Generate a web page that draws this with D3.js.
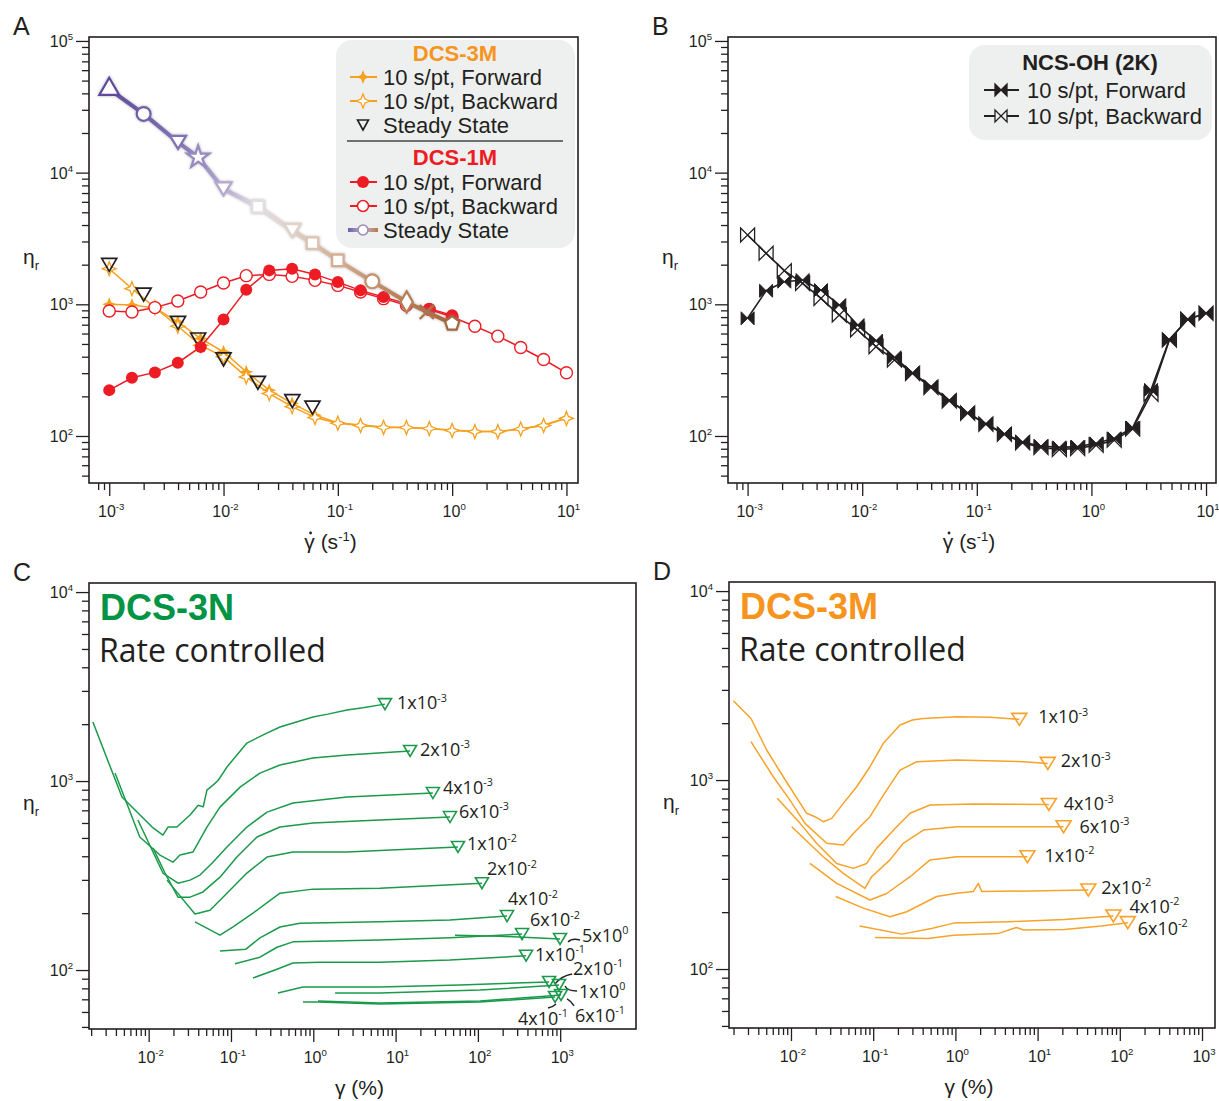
<!DOCTYPE html>
<html>
<head>
<meta charset="utf-8">
<script src="https://cdnjs.cloudflare.com/ajax/libs/d3/7.8.5/d3.min.js"></script>
<style>
  body { margin: 0; background: #fff; }
  svg { display: block; }
  .tick-label { font-family: "Liberation Sans", Arial, sans-serif; font-size: 16px; fill: #231f20; }
  .axis-title { font-family: "Liberation Sans", Arial, sans-serif; font-size: 21px; fill: #231f20; }
  .leg { font-family: "Liberation Sans", Arial, sans-serif; font-size: 22px; fill: #231f20; }
  .rate { font-family: "Open Sans", sans-serif; font-size: 18px; fill: #231f20; }
</style>
</head>
<body>
<div id="chart"></div>
<script>
// ---------- Panel A : DCS-3M / DCS-1M ----------
const rateA = [1e-3, 1.58e-3, 2.51e-3, 3.98e-3, 6.31e-3, 1e-2, 1.58e-2, 2.51e-2, 3.98e-2, 6.31e-2,
               0.1, 0.158, 0.251, 0.398, 0.631, 1, 1.58, 2.51, 3.98, 6.31, 10];
const dcs1mForward  = [223, 277, 304, 360, 475, 766, 1292, 1810, 1864, 1687, 1475, 1276, 1136, 1012, 927, 826];
const dcs1mBackward = [890, 875, 944, 1059, 1240, 1451, 1650, 1687, 1630, 1520, 1392, 1240, 1104, 983, 912, 801, 681, 573, 470, 381, 302];
const dcs3mForward  = [1000, 990, 940, 735, 550, 436, 307, 223, 177, 144, 126, 121, 117, 116, 114, 111, 108, 108, 113, 121, 137];
const dcs3mBackward = [1864, 1315, 944, 681, 488, 399, 281, 210, 167, 138, 125, 120, 116, 116, 114, 110, 108, 108, 113, 120, 136];
const ssRate3m = [1e-3, 2e-3, 4e-3, 6e-3, 1e-2, 2e-2, 4e-2, 6e-2];
const ss3m     = [2030, 1205, 735, 550, 388, 258, 187, 167];
const ssRate1m = [1e-3, 2e-3, 4e-3, 6e-3, 1e-2, 2e-2, 4e-2, 6e-2, 0.1, 0.2, 0.4, 0.6, 1];
const ss1m     = [43000, 27900, 17000, 13100, 7520, 5520, 3630, 2910, 2155, 1494, 1041, 875, 714];
const ss1mShapes = ["triUp", "circle", "triDown", "star", "triDown", "square", "triDown", "square", "square", "circle", "diamond", "times", "pentagon"];

// ---------- Panel B : NCS-OH (2K) ----------
const rateB = [0.001, 0.00145, 0.00209, 0.00302, 0.00437, 0.00631, 0.00912, 0.0132, 0.0191, 0.0275,
               0.0398, 0.0575, 0.0832, 0.120, 0.174, 0.251, 0.363, 0.525, 0.759, 1.10,
               1.58, 2.29, 3.31, 4.79, 6.92, 10.0];
const ncsForward  = [783, 1268, 1485, 1528, 1283, 987, 695, 530, 396, 302, 238, 187, 150, 124, 104, 90, 84, 82, 83, 88, 96, 116, 224, 541, 769, 855];
const ncsBackward = [3357, 2440, 1800, 1443, 1110, 829, 638, 477, 378, 299, 234, 185, 149, 123, 103, 89, 82, 79, 80.5, 85, 93, 113, 208, 536, 769, 855];

// ---------- Panel C : DCS-3N start-up curves  [strain %, eta_r] ----------
const c_1e3 = [[2.1e-3,2051],[4.74e-3,823],[1.1e-2,571],[1.49e-2,518],[1.72e-2,571],[2.2e-2,571],[3.18e-2,661],[4e-2,745],[4.6e-2,730],[5.1e-2,896],[6.2e-2,960],[7e-2,1010],[8.93e-2,1186],[0.156,1588],[0.25,1760],[0.394,1932],[0.99,2183],[1.5,2260],[2.57,2377],[4,2440],[7.43,2553]];
const c_2e3 = [[3.9e-3,1102],[7.8e-3,506],[1.37e-2,406],[1.97e-2,372],[2.4e-2,406],[3.45e-2,421],[5.1e-2,571],[7.35e-2,728],[0.129,929],[0.225,1102],[0.394,1216],[0.99,1324],[2.57,1374],[15.0,1442]];
const c_4e3 = [[7.4e-3,622],[1.49e-2,326],[2.27e-2,288],[3.18e-2,299],[4.2e-2,318],[6.04e-2,372],[8.93e-2,448],[0.156,571],[0.274,685],[0.566,765],[2.57,823],[28.4,864]];
const c_6e3 = [[1.13e-2,442],[1.58e-2,326],[2.27e-2,243],[3.18e-2,243],[4.57e-2,259],[7.35e-2,310],[0.118,396],[0.207,506],[0.394,571],[0.99,600],[6.45,622],[45.8,645]];
const c_1e2 = [[1.67e-2,299],[3.65e-2,198],[5.56e-2,207],[8.93e-2,255],[0.156,326],[0.274,396],[0.566,421],[2.57,421],[16.3,437],[57.3,448]];
const c_2e2 = [[3.65e-2,180],[7.35e-2,153],[0.106,169],[0.185,200],[0.394,255],[0.99,268],[6.45,271],[112,288]];
const c_4e2 = [[7.35e-2,126],[0.152,129],[0.225,148],[0.394,169],[0.689,177],[6.45,180],[45.8,184],[226,193]];
const c_6e2 = [[0.112,108],[0.225,117],[0.362,132],[0.566,141],[6.45,144],[45.8,148],[344,155]];
const c_1e1 = [[0.185,90.7],[0.362,101],[0.566,109],[1.21,110],[6.45,110],[45.8,113],[385,119]];
const c_2e1 = [[0.372,75.5],[0.75,81.3],[6.45,81.3],[60.6,83.4],[733,86.5]];
const c_4e1 = [[0.75,67.7],[1.14,67.7],[6.45,66.1],[106,67.7],[866,72]];
const c_6e1 = [[1.14,68.5],[6.45,66.9],[106,68.5],[1023,73.8]];
const c_1e0 = [[1.84,75.5],[6.45,75.5],[106,78.3],[968,83.4]];
const c_5e0 = [[52.7,153],[186,151],[995,146]];
const curvesC = [c_1e3, c_2e3, c_4e3, c_6e3, c_1e2, c_2e2, c_4e2, c_6e2, c_5e0, c_1e1, c_2e1, c_1e0, c_4e1, c_6e1];
const ratesC  = [["1x10","-3"],["2x10","-3"],["4x10","-3"],["6x10","-3"],["1x10","-2"],["2x10","-2"],["4x10","-2"],["6x10","-2"],
                 ["5x10","0"],["1x10","-1"],["2x10","-1"],["1x10","0"],["4x10","-1"],["6x10","-1"]];

// ---------- Panel D : DCS-3M start-up curves ----------
const d_1e3 = [[1.99e-3,2630],[3.26e-3,2118],[5.06e-3,1442],[8.05e-3,1041],[1.55e-2,667],[1.96e-2,640],[2.47e-2,602],[3.13e-2,627],[4.33e-2,753],[6.3e-2,922],[9.14e-2,1176],[0.133,1564],[0.212,1956],[0.3,2080],[0.407,2119],[1.04,2163],[2.64,2147],[5.99,2095]];
const d_2e3 = [[3.26e-3,1596],[6.09e-3,1041],[9.72e-3,783],[1.48e-2,590],[2.72e-2,463],[4.33e-2,453],[5.73e-2,522],[9.14e-2,640],[0.133,833],[0.212,1129],[0.338,1250],[1.04,1276],[6.7,1250],[13.3,1225]];
const d_4e3 = [[6.81e-3,800],[1.29e-2,590],[2.05e-2,463],[3.6e-2,362],[5.73e-2,341],[8.34e-2,362],[0.11,435],[0.193,566],[0.281,667],[0.491,738],[1.65,747],[13.7,743]];
const d_6e3 = [[1.02e-2,566],[2.47e-2,393],[4.33e-2,321],[7.94e-2,267],[9.59e-2,308],[0.16,378],[0.232,463],[0.407,544],[1.04,566],[10.7,566],[20.7,566]];
const d_1e2 = [[1.7e-2,362],[3.6e-2,284],[9.14e-2,232],[0.146,251],[0.281,308],[0.491,378],[1.04,393],[7.52,393]];
const d_2e2 = [[3.5e-2,242],[7.59e-2,210],[0.16,189],[0.256,201],[0.592,242],[1.04,252],[1.65,257],[1.9,284],[2.09,257],[17.1,260],[41.4,262]];
const d_4e2 = [[6.84e-2,169],[0.224,153],[0.512,164],[0.953,175],[4.49,178],[21.2,183],[83.6,191]];
const d_6e2 = [[0.105,147],[0.461,145],[0.953,151],[3.3,154],[5.52,166],[6.79,161],[21.2,162],[59.6,169],[125,176]];
const curvesD = [d_1e3, d_2e3, d_4e3, d_6e3, d_1e2, d_2e2, d_4e2, d_6e2];
const ratesD  = [["1x10","-3"],["2x10","-3"],["4x10","-3"],["6x10","-3"],["1x10","-2"],["2x10","-2"],["4x10","-2"],["6x10","-2"]];

// label placement (pixels from the end triangle)
const labelOffC = [[12,5],[10,5],[10,1],[9,1],[9,3],[5,-8],[1,-11],[8,-8],[22,3],[9,5],[24,-7],[20,13],[-37,28],[14,27]];
const leaderC = [null,null,null,null,null,null,null,null,"M8,3 Q12,-1 20,1",null,"M6,2 Q12,-6 23,-8","M6,1 Q8,6 18,6","M1,7 Q-2,10 -7,11","M6,4 Q10,6 13,11"];
const labelOffD = [[19,4],[13,4],[15,6],[16,6],[17,5],[13,4],[16,-3],[10,12]];

// ---------- drawing ----------
const W = 1219, H = 1101;
const ink = "#231f20", orange = "#f6a01e", red = "#ed1c24", green = "#1a9a4a", orangeD = "#f7a229";
const svg = d3.select("#chart").append("svg").attr("width", W).attr("height", H);
svg.append("rect").attr("width", W).attr("height", H).attr("fill", "#fff");

const defs = svg.append("defs");
defs.append("filter").attr("id", "glow").attr("x", "-20%").attr("y", "-20%").attr("width", "140%").attr("height", "140%")
  .append("feDropShadow").attr("dx", 0).attr("dy", 0).attr("stdDeviation", 1.6)
  .attr("flood-color", "#8a8a8a").attr("flood-opacity", 0.7);

function logTicks(lo, hi) {
  const out = [];
  for (let e = -4; e <= 5; e++) for (let k = 1; k <= 9; k++) {
    const v = +(k * Math.pow(10, e)).toPrecision(6);
    if (v >= lo * 0.9999 && v <= hi * 1.0001) out.push(v);
  }
  return out;
}
const isMajor = v => Math.abs(Math.log10(v) - Math.round(Math.log10(v))) < 1e-6;

function sup(t, base, exp, size) {
  t.append("tspan").text(base);
  t.append("tspan").attr("font-size", size * 0.6).attr("dy", -size * 0.42).text(exp);
}

function panel(c) {
  const g = svg.append("g");
  const x = d3.scaleLog().domain(c.xd).range([c.l, c.r]);
  const y = d3.scaleLog().domain(c.yd).range([c.b, c.t]);
  const xt = logTicks(c.xt[0], c.xt[1]), yt = logTicks(c.yt[0], c.yt[1]);

  const ax = g.append("g").attr("transform", `translate(0,${c.b})`)
    .call(d3.axisBottom(x).tickValues(xt).tickSizeOuter(0).tickFormat(""));
  ax.select(".domain").remove();
  ax.selectAll(".tick line").attr("y2", d => isMajor(d) ? 13 : 7).attr("stroke", ink).attr("stroke-width", 1.3);

  const ay = g.append("g").attr("transform", `translate(${c.l},0)`)
    .call(d3.axisLeft(y).tickValues(yt).tickSizeOuter(0).tickFormat(""));
  ay.select(".domain").remove();
  ay.selectAll(".tick line").attr("x2", d => isMajor(d) ? -13 : -7).attr("stroke", ink).attr("stroke-width", 1.3);

  xt.filter(isMajor).forEach(v => {
    const t = g.append("text").attr("class", "tick-label").attr("text-anchor", "middle")
      .attr("x", x(v) + 2).attr("y", c.b + 34);
    sup(t, "10", String(Math.round(Math.log10(v))), 16);
  });
  yt.filter(isMajor).forEach(v => {
    const t = g.append("text").attr("class", "tick-label").attr("text-anchor", "end")
      .attr("x", c.l - 16).attr("y", y(v) + 6);
    sup(t, "10", String(Math.round(Math.log10(v))), 16);
  });

  g.append("rect").attr("x", c.l).attr("y", c.t).attr("width", c.r - c.l).attr("height", c.b - c.t)
    .attr("fill", "none").attr("stroke", ink).attr("stroke-width", 1.6);

  // titles
  const ty = c.b + 66;
  const xtl = g.append("text").attr("class", "axis-title").attr("text-anchor", "middle")
    .attr("x", (c.l + c.r) / 2 - 3).attr("y", ty);
  if (c.rateAxis) {
    xtl.append("tspan").text("\u03B3 (s");
    xtl.append("tspan").attr("font-size", 13).attr("dy", -8).text("-1");
    xtl.append("tspan").attr("dy", 8).text(")");
    const ext = xtl.node().getExtentOfChar(0);
    g.append("circle").attr("cx", ext.x + ext.width / 2 + 1).attr("cy", ty - 16).attr("r", 1.4).attr("fill", ink);
  } else {
    xtl.text("\u03B3 (%)");
  }
  const ytl = g.append("text").attr("class", "axis-title").attr("x", c.l - 66).attr("y", (c.t + c.b) / 2 + 4);
  ytl.append("tspan").text("\u03B7");
  ytl.append("tspan").attr("font-size", 13).attr("dy", 6).text("r");

  g.append("text").attr("x", c.l - 76).attr("y", c.t - 2)
    .attr("font-family", "Liberation Sans, Arial, sans-serif").attr("font-size", 25).attr("fill", ink).text(c.letter);
  return { g, x, y };
}

// marker paths
const star4 = r => `M0,${-r}L${r*0.28},${-r*0.28}L${r},0L${r*0.28},${r*0.28}L0,${r}L${-r*0.28},${r*0.28}L${-r},0L${-r*0.28},${-r*0.28}Z`;
const bowtie = s => `M${-s},${-s}L${s},${s}L${s},${-s}L${-s},${s}Z`;
const triDown = (w, h) => `M${-w/2},${-h/2}L${w/2},${-h/2}L0,${h/2}Z`;
const pentagon = r => d3.range(5).map(i => { const a = -Math.PI / 2 + i * 2 * Math.PI / 5; return [r * Math.cos(a), r * Math.sin(a)]; })
  .map((p, i) => (i ? "L" : "M") + p[0].toFixed(2) + "," + p[1].toFixed(2)).join("") + "Z";
function shapePath(name) {
  switch (name) {
    case "triUp": return d3.symbol(d3.symbolTriangle, 170)();
    case "triDown": return triDown(16, 13);
    case "circle": return d3.symbol(d3.symbolCircle, 150)();
    case "star": return d3.symbol(d3.symbolStar, 150)();
    case "square": return d3.symbol(d3.symbolSquare, 130)();
    case "diamond": return d3.symbol(d3.symbolDiamond, 130)();
    case "times": return d3.symbol(d3.symbolTimes, 130)();
    default: return pentagon(7.5);
  }
}

// ================= Panel A =================
{
  const { g, x, y } = panel({ l: 89, r: 578, t: 37, b: 483, xd: [Math.pow(10, -3.177), Math.pow(10, 1.101)],
    yd: [Math.pow(10, 1.643), Math.pow(10, 5.03)], xt: [8e-4, 10], yt: [50, 1e5], rateAxis: true, letter: "A" });
  const line = d3.line().x(d => x(d[0])).y(d => y(d[1]));
  const zip = (xs, ys) => ys.map((v, i) => [xs[i], v]);

  const f3 = zip(rateA, dcs3mForward), b3 = zip(rateA, dcs3mBackward);
  g.append("path").attr("d", line(b3)).attr("fill", "none").attr("stroke", orange).attr("stroke-width", 1.5);
  g.append("path").attr("d", line(f3)).attr("fill", "none").attr("stroke", orange).attr("stroke-width", 1.5);
  g.selectAll(".f3").data(f3).join("path").attr("transform", d => `translate(${x(d[0])},${y(d[1])})`)
    .attr("d", star4(7)).attr("fill", orange);
  g.selectAll(".b3").data(b3).join("path").attr("transform", d => `translate(${x(d[0])},${y(d[1])})`)
    .attr("d", star4(7)).attr("fill", "#fff").attr("stroke", orange).attr("stroke-width", 1.3);
  g.selectAll(".s3").data(zip(ssRate3m, ss3m)).join("path").attr("transform", d => `translate(${x(d[0])},${y(d[1]) + 1})`)
    .attr("d", triDown(15, 13)).attr("fill", "none").attr("stroke", ink).attr("stroke-width", 1.7);

  const f1 = zip(rateA, dcs1mForward), b1 = zip(rateA, dcs1mBackward);
  g.append("path").attr("d", line(b1)).attr("fill", "none").attr("stroke", red).attr("stroke-width", 1.5);
  g.append("path").attr("d", line(f1)).attr("fill", "none").attr("stroke", red).attr("stroke-width", 1.5);
  g.selectAll(".b1").data(b1).join("circle").attr("cx", d => x(d[0])).attr("cy", d => y(d[1])).attr("r", 6)
    .attr("fill", "#fff").attr("stroke", red).attr("stroke-width", 1.4);
  g.selectAll(".f1").data(f1).join("circle").attr("cx", d => x(d[0])).attr("cy", d => y(d[1])).attr("r", 6).attr("fill", red);

  // steady-state DCS-1M gradient line
  const x1 = x(ssRate1m[0]), x2 = x(ssRate1m[ssRate1m.length - 1]);
  const stopT = [0, 0.2, 0.333, 0.43, 0.53, 0.667, 0.8, 1];
  const stopC = ["#604a9c", "#8172b5", "#b3a8d0", "#e2dee6", "#e2d2c8", "#d4ac92", "#c08962", "#a4663a"];
  const grad = defs.append("linearGradient").attr("id", "ssGrad").attr("gradientUnits", "userSpaceOnUse")
    .attr("x1", x1).attr("x2", x2).attr("y1", 0).attr("y2", 0);
  stopT.forEach((t, i) => grad.append("stop").attr("offset", t).attr("stop-color", stopC[i]));
  const colAt = d3.scaleLinear().domain(stopT).range(stopC).interpolate(d3.interpolateRgb);
  const ss = zip(ssRate1m, ss1m);
  const sg = g.append("g").attr("filter", "url(#glow)");
  sg.append("path").attr("d", line(ss)).attr("fill", "none").attr("stroke", "url(#ssGrad)").attr("stroke-width", 4);
  sg.selectAll(".ss").data(ss).join("path")
    .attr("transform", (d, i) => `translate(${x(d[0])},${y(d[1])})`)
    .attr("d", (d, i) => shapePath(ss1mShapes[i]))
    .attr("fill", "#fff").attr("stroke", d => colAt((x(d[0]) - x1) / (x2 - x1))).attr("stroke-width", 2.2);

  // legend
  const lg = svg.append("g");
  lg.append("rect").attr("x", 336).attr("y", 40).attr("width", 239).attr("height", 208).attr("rx", 16).attr("fill", "#eef0ef");
  lg.append("text").attr("class", "leg").attr("x", 455).attr("y", 61).attr("text-anchor", "middle")
    .attr("font-weight", "bold").style("fill", "#f7941d").text("DCS-3M");
  lg.append("text").attr("class", "leg").attr("x", 455).attr("y", 165).attr("text-anchor", "middle")
    .attr("font-weight", "bold").style("fill", red).text("DCS-1M");
  lg.append("line").attr("x1", 347).attr("x2", 563).attr("y1", 141).attr("y2", 141).attr("stroke", "#444").attr("stroke-width", 1.5);
  const items = [
    { y: 77, t: "10 s/pt, Forward", col: orange, mk: "starF" },
    { y: 101, t: "10 s/pt, Backward", col: orange, mk: "starO" },
    { y: 125, t: "Steady State", col: null, mk: "tri" },
    { y: 182, t: "10 s/pt, Forward", col: red, mk: "circF" },
    { y: 206, t: "10 s/pt, Backward", col: red, mk: "circO" },
    { y: 230, t: "Steady State", col: "grad", mk: "ss" }
  ];
  const lgGrad = defs.append("linearGradient").attr("id", "lgGrad");
  lgGrad.append("stop").attr("offset", 0).attr("stop-color", "#6f5cab");
  lgGrad.append("stop").attr("offset", 0.5).attr("stop-color", "#c9b7c8");
  lgGrad.append("stop").attr("offset", 1).attr("stop-color", "#b47a4c");
  items.forEach(it => {
    if (it.col === "grad") lg.append("rect").attr("x", 348).attr("y", it.y - 2).attr("width", 30).attr("height", 4).attr("fill", "url(#lgGrad)");
    else if (it.col) lg.append("line").attr("x1", 350).attr("x2", 377).attr("y1", it.y).attr("y2", it.y).attr("stroke", it.col).attr("stroke-width", 2);
    const m = lg.append("g").attr("transform", `translate(363,${it.y})`);
    if (it.mk === "starF") m.append("path").attr("d", star4(7)).attr("fill", orange);
    if (it.mk === "starO") m.append("path").attr("d", star4(7)).attr("fill", "#fff").attr("stroke", orange).attr("stroke-width", 1.3);
    if (it.mk === "tri") m.append("path").attr("d", triDown(11, 10)).attr("fill", "none").attr("stroke", ink).attr("stroke-width", 1.6);
    if (it.mk === "circF") m.append("circle").attr("r", 6).attr("fill", red);
    if (it.mk === "circO") m.append("circle").attr("r", 5.5).attr("fill", "#fff").attr("stroke", red).attr("stroke-width", 1.5);
    if (it.mk === "ss") m.append("circle").attr("r", 5).attr("fill", "#fff").attr("stroke", "#9c8ab8").attr("stroke-width", 1.6);
    lg.append("text").attr("class", "leg").attr("x", 383).attr("y", it.y + 8).text(it.t);
  });
}

// ================= Panel B =================
{
  const { g, x, y } = panel({ l: 728, r: 1216, t: 37, b: 483, xd: [Math.pow(10, -3.171), Math.pow(10, 1.087)],
    yd: [Math.pow(10, 1.643), Math.pow(10, 5.03)], xt: [8e-4, 10], yt: [50, 1e5], rateAxis: true, letter: "B" });
  const line = d3.line().x(d => x(d[0])).y(d => y(d[1]));
  const fw = ncsForward.map((v, i) => [rateB[i], v]);
  const bw = ncsBackward.map((v, i) => [rateB[i], v]);
  g.append("path").attr("d", line(bw)).attr("fill", "none").attr("stroke", ink).attr("stroke-width", 1.6);
  g.append("path").attr("d", line(fw)).attr("fill", "none").attr("stroke", ink).attr("stroke-width", 1.6);
  g.selectAll(".fw").data(fw).join("path").attr("transform", d => `translate(${x(d[0])},${y(d[1])})`)
    .attr("d", bowtie(6.5)).attr("fill", ink).attr("stroke", ink).attr("stroke-width", 1);
  g.selectAll(".bw").data(bw).join("path").attr("transform", d => `translate(${x(d[0])},${y(d[1])})`)
    .attr("d", bowtie(7)).attr("fill", "none").attr("stroke", ink).attr("stroke-width", 1.3);

  const lg = svg.append("g");
  lg.append("rect").attr("x", 969).attr("y", 45).attr("width", 243).attr("height", 95).attr("rx", 16).attr("fill", "#eef0ef");
  lg.append("text").attr("class", "leg").attr("x", 1090).attr("y", 70).attr("text-anchor", "middle")
    .attr("font-weight", "bold").text("NCS-OH (2K)");
  [[90, "10 s/pt, Forward", true], [116, "10 s/pt, Backward", false]].forEach(([yy, t, filled]) => {
    lg.append("line").attr("x1", 984).attr("x2", 1019).attr("y1", yy).attr("y2", yy).attr("stroke", ink).attr("stroke-width", 2);
    lg.append("path").attr("transform", `translate(1001,${yy})`).attr("d", bowtie(6))
      .attr("fill", filled ? ink : "#eef0ef").attr("stroke", ink).attr("stroke-width", 1.3);
    lg.append("text").attr("class", "leg").attr("x", 1027).attr("y", yy + 8).text(t);
  });
}

// ================= Panels C and D =================
function startupPanel(cfg, curves, rates, offs, leaders, col, title, triW, triH) {
  const { g, x, y } = panel(cfg);
  const line = d3.line().x(d => x(d[0])).y(d => y(d[1]));
  curves.forEach((pts, i) => {
    g.append("path").attr("d", line(pts)).attr("fill", "none").attr("stroke", col).attr("stroke-width", 1.5)
      .attr("stroke-linejoin", "round");
    const end = pts[pts.length - 1];
    const ex = x(end[0]), ey = y(end[1]);
    g.append("path").attr("transform", `translate(${ex},${ey})`).attr("d", triDown(triW, triH))
      .attr("fill", "none").attr("stroke", col).attr("stroke-width", 1.6);
    const t = g.append("text").attr("class", "rate").attr("x", ex + offs[i][0]).attr("y", ey + offs[i][1]);
    sup(t, rates[i][0], rates[i][1], 18);
    if (leaders && leaders[i]) g.append("path").attr("transform", `translate(${ex},${ey})`).attr("d", leaders[i])
      .attr("fill", "none").attr("stroke", ink).attr("stroke-width", 1.4);
  });
  g.append("text").attr("x", cfg.l + 11).attr("y", cfg.t + 37).attr("font-family", "Liberation Sans, Arial, sans-serif")
    .attr("font-weight", "bold").attr("font-size", 36).attr("fill", title[1]).text(title[0]);
  g.append("text").attr("x", cfg.l + 10).attr("y", cfg.t + 79).attr("font-family", "Open Sans, sans-serif")
    .attr("font-size", 32).attr("fill", ink).text("Rate controlled");
}

startupPanel({ l: 89, r: 636, t: 583, b: 1029, xd: [Math.pow(10, -2.725), Math.pow(10, 3.921)],
  yd: [Math.pow(10, 1.688), Math.pow(10, 4.048)], xt: [2e-3, 1e3], yt: [50, 1e4], rateAxis: false, letter: "C" },
  curvesC, ratesC, labelOffC, leaderC, green, ["DCS-3N", "#009444"], 13, 11);

startupPanel({ l: 729, r: 1215, t: 582, b: 1028, xd: [Math.pow(10, -2.754), Math.pow(10, 3.158)],
  yd: [Math.pow(10, 1.688), Math.pow(10, 4.048)], xt: [2e-3, 1e3], yt: [50, 1e4], rateAxis: false, letter: "D" },
  curvesD, ratesD, labelOffD, null, orangeD, ["DCS-3M", "#f7941d"], 15, 12);
</script>
</body>
</html>
